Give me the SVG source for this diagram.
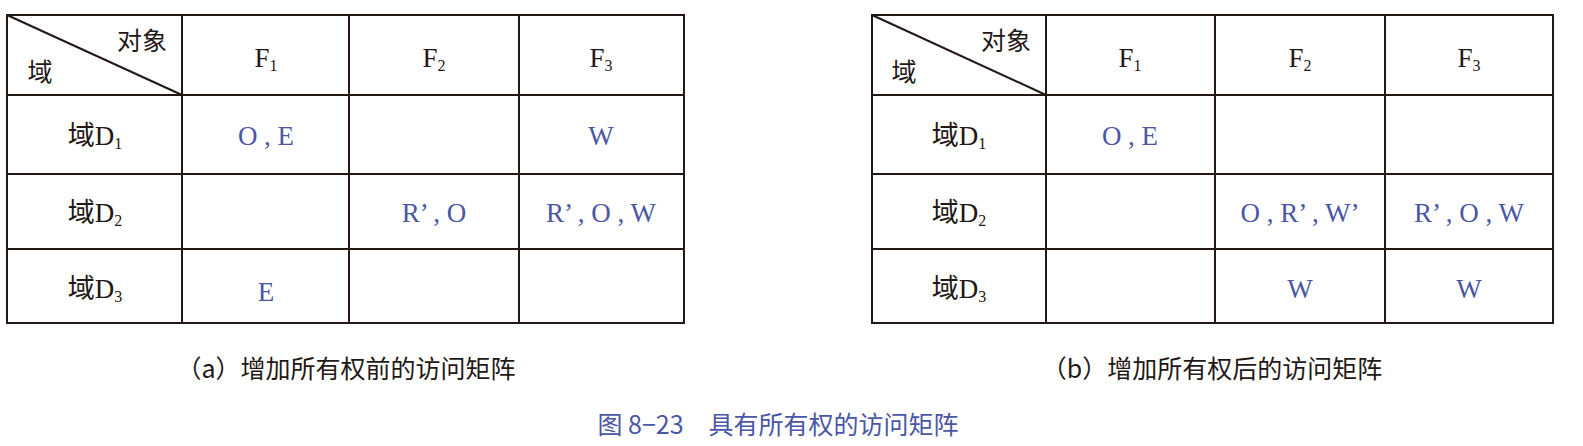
<svg xmlns="http://www.w3.org/2000/svg" width="1583" height="446" viewBox="0 0 1583 446">
<style>
.g{fill:none;stroke:#231815;stroke-width:2}
.t{font-family:"Liberation Serif","Noto Sans CJK SC",serif;font-size:27px;fill:#231815;text-anchor:middle}
.c{font-family:"Noto Sans CJK SC",sans-serif;font-size:25px;fill:#231815;text-anchor:middle}
.b{fill:#4a56a6}
.s{font-size:16px}
</style>
<rect width="1583" height="446" fill="#fff"/>
<g id="tableA">
<g class="g">
<rect x="7" y="15" width="677" height="308"/>
<path d="M182 15V323M349 15V323M519 15V323M7 95H684M7 174H684M7 249H684M7 15L182 95"/>
</g>
<text class="c" x="142" y="50" font-size="25">对象</text>
<text class="c" x="40" y="81" font-size="25">域</text>
<text class="t" x="266" y="67">F<tspan class="s" dy="4">1</tspan></text>
<text class="t" x="434" y="67">F<tspan class="s" dy="4">2</tspan></text>
<text class="t" x="601" y="67">F<tspan class="s" dy="4">3</tspan></text>
<text class="t" x="95" y="145">域D<tspan class="s" dy="4">1</tspan></text>
<text class="t" x="95" y="222">域D<tspan class="s" dy="4">2</tspan></text>
<text class="t" x="95" y="298">域D<tspan class="s" dy="4">3</tspan></text>
<text class="t b" x="266" y="145">O , E</text>
<text class="t b" x="601" y="145">W</text>
<text class="t b" x="434" y="222">R’ , O</text>
<text class="t b" x="601" y="222">R’ , O , W</text>
<text class="t b" x="266" y="301">E</text>
</g>
<g id="tableB">
<g class="g">
<rect x="872" y="15" width="681" height="308"/>
<path d="M1046 15V323M1215 15V323M1385 15V323M872 95H1553M872 174H1553M872 249H1553M872 15L1046 95"/>
</g>
<text class="c" x="1006" y="50" font-size="25">对象</text>
<text class="c" x="904" y="81" font-size="25">域</text>
<text class="t" x="1130" y="67">F<tspan class="s" dy="4">1</tspan></text>
<text class="t" x="1300" y="67">F<tspan class="s" dy="4">2</tspan></text>
<text class="t" x="1469" y="67">F<tspan class="s" dy="4">3</tspan></text>
<text class="t" x="959" y="145">域D<tspan class="s" dy="4">1</tspan></text>
<text class="t" x="959" y="222">域D<tspan class="s" dy="4">2</tspan></text>
<text class="t" x="959" y="298">域D<tspan class="s" dy="4">3</tspan></text>
<text class="t b" x="1130" y="145">O , E</text>
<text class="t b" x="1300" y="222">O , R’ , W’</text>
<text class="t b" x="1469" y="222">R’ , O , W</text>
<text class="t b" x="1300" y="298">W</text>
<text class="t b" x="1469" y="298">W</text>
</g>
<text class="c" x="346" y="378" font-size="26">（a）增加所有权前的访问矩阵</text>
<text class="c" x="1212" y="378" font-size="26">（b）增加所有权后的访问矩阵</text>
<text class="c b" x="778" y="434" font-size="25">图 8−23　具有所有权的访问矩阵</text>
</svg>
